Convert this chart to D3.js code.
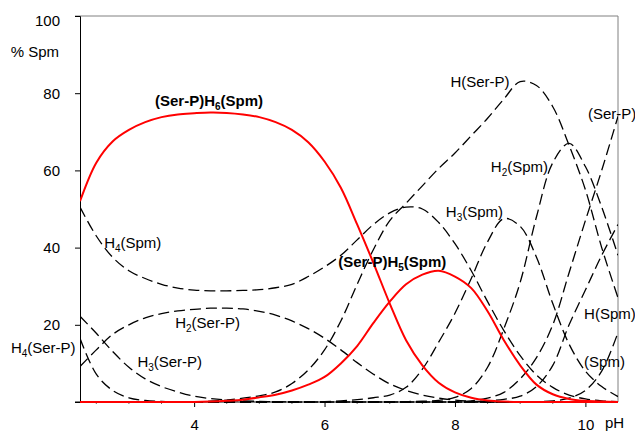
<!DOCTYPE html>
<html>
<head>
<meta charset="utf-8">
<script src="https://cdn.jsdelivr.net/npm/d3@7"></script>
<style>
  body { margin: 0; background: #fff; }
  svg { display: block; font-family: "Liberation Sans", Arial, sans-serif; }
</style>
</head>
<body>
<div id="chart"></div>
<script>
// pH grid shared by every species curve
const pH = [2.25, 2.5, 2.75, 3.0, 3.25, 3.5, 3.75, 4.0, 4.25, 4.5, 4.75, 5.0,
  5.25, 5.5, 5.75, 6.0, 6.25, 6.5, 6.75, 7.0, 7.25, 7.5, 7.75, 8.0, 8.25,
  8.5, 8.75, 9.0, 9.25, 9.5, 9.75, 10.0, 10.25, 10.5];

// complexes (red)
const serPH6Spm = [52, 62, 67.5, 70.5, 72.5, 73.8, 74.5, 74.8, 75, 74.9, 74.5, 73.8,
  72.5, 70.5, 67.3, 62.3, 55.5, 46, 36, 25.5, 16, 9.5, 5, 2.5, 1.1,
  0.4, 0.1, 0, 0, 0, 0, 0, 0, 0];
const serPH5Spm = [0, 0, 0, 0, 0, 0, 0, 0, 0.1, 0.3, 0.6, 1.2,
  1.9, 3.0, 4.5, 6.5, 10, 14.5, 20.5, 26, 30.5, 33, 34, 32.5, 29.5,
  23.5, 16, 9.5, 4.5, 2, 0.8, 0.3, 0.1, 0];

// spermine species (dashed)
const h4Spm = [50.5, 43, 37.5, 34, 32, 30.5, 29.5, 29, 28.8, 28.8, 28.9, 29.1,
  29.6, 30.5, 32.5, 35, 38, 42, 46, 49, 50.5, 50, 46.5, 41, 34,
  26, 18.5, 12, 7, 3.8, 1.8, 0.8, 0.3, 0.1];
const h3Spm = [0, 0, 0, 0, 0, 0, 0, 0, 0, 0, 0, 0,
  0, 0, 0, 0.1, 0.3, 0.6, 1.1, 1.8, 3.8, 8.5, 15.5, 23, 32,
  41.5, 47.5, 45.5, 37.5, 25.5, 15, 8, 4, 1.4];
const h2Spm = [0, 0, 0, 0, 0, 0, 0, 0, 0, 0, 0, 0,
  0, 0, 0, 0, 0, 0, 0, 0, 0.1, 0.2, 0.4, 1.2, 3.5,
  9, 19, 31, 48, 62, 67, 61, 50.5, 38];
const hSpm = [0, 0, 0, 0, 0, 0, 0, 0, 0, 0, 0, 0,
  0, 0, 0, 0, 0, 0, 0, 0, 0, 0, 0, 0, 0.1,
  0.3, 0.7, 1.5, 4, 9.5, 20, 29, 38, 46];
const spm = [0, 0, 0, 0, 0, 0, 0, 0, 0, 0, 0, 0,
  0, 0, 0, 0, 0, 0, 0, 0, 0, 0, 0, 0, 0,
  0, 0, 0, 0.1, 0.3, 1, 3, 8, 18];

// Ser-P species (dashed)
const h4SerP = [16.5, 7.2, 3, 1.1, 0.4, 0.15, 0.05, 0, 0, 0, 0, 0,
  0, 0, 0, 0, 0, 0, 0, 0, 0, 0, 0, 0, 0,
  0, 0, 0, 0, 0, 0, 0, 0, 0];
const h3SerP = [22.2, 17.8, 13.1, 9, 6, 4, 2.6, 1.5, 0.9, 0.5, 0.3, 0.15,
  0.1, 0, 0, 0, 0, 0, 0, 0, 0, 0, 0, 0, 0,
  0, 0, 0, 0, 0, 0, 0, 0, 0];
const h2SerP = [9.2, 13.5, 17.5, 20, 21.8, 22.9, 23.6, 24, 24.3, 24.3, 24.1, 23.5,
  22.5, 21, 19, 16.5, 13.5, 10.2, 7.2, 4.7, 3, 1.8, 1.0, 0.5, 0.2,
  0.1, 0, 0, 0, 0, 0, 0, 0, 0];
const hSerP = [0, 0, 0, 0, 0, 0, 0, 0, 0.2, 0.5, 1, 1.6,
  2.6, 4.8, 8.3, 13.5, 21, 30.5, 39.5, 47, 51.5, 56, 60.5, 64.5, 69,
  73.5, 78.5, 83, 82, 76.5, 66.5, 55, 40, 27];
const serP = [0, 0, 0, 0, 0, 0, 0, 0, 0, 0, 0, 0,
  0, 0, 0, 0, 0, 0, 0, 0, 0, 0, 0, 0, 0.3,
  1, 2.5, 6, 11.5, 20, 33.5, 47, 60, 74];

const xTicks = [4, 6, 8, 10];
const yTicks = [0, 20, 40, 60, 80, 100];

// curve labels: parts [text, isSubscript], anchored at (pH, %)
const curveLabels = [
  { parts: [['(Ser-P)H', 0], ['6', 1], ['(Spm)', 0]], at: [3.40, 76.6], bold: true },
  { parts: [['(Ser-P)H', 0], ['5', 1], ['(Spm)', 0]], at: [6.21, 35.0], bold: true },
  { parts: [['H', 0], ['4', 1], ['(Spm)', 0]], at: [2.62, 39.9] },
  { parts: [['H', 0], ['2', 1], ['(Ser-P)', 0]], at: [3.71, 19.2] },
  { parts: [['H', 0], ['3', 1], ['(Ser-P)', 0]], at: [3.13, 9.1] },
  { parts: [['H', 0], ['4', 1], ['(Ser-P)', 0]], at: [1.19, 12.6] },
  { parts: [['H', 0], ['3', 1], ['(Spm)', 0]], at: [7.86, 47.9] },
  { parts: [['H', 0], ['2', 1], ['(Spm)', 0]], at: [8.55, 59.6] },
  { parts: [['H(Ser-P)', 0]], at: [7.93, 81.5] },
  { parts: [['(Ser-P)', 0]], at: [10.04, 73.3] },
  { parts: [['H(Spm)', 0]], at: [9.98, 21.5] },
  { parts: [['(Spm)', 0]], at: [9.98, 9.1] }
];

const width = 635, height = 432;
const margin = { top: 16, right: 17, bottom: 30, left: 80 };

const svg = d3.select('#chart').append('svg')
  .attr('width', width)
  .attr('height', height);

const x = d3.scaleLinear().domain([2.25, 10.5]).range([margin.left, width - margin.right]);
const y = d3.scaleLinear().domain([0, 100]).range([height - margin.bottom, margin.top]);

svg.append('clipPath').attr('id', 'plot')
  .append('rect')
  .attr('x', x(2.25)).attr('y', y(100) - 2)
  .attr('width', x(10.5) - x(2.25)).attr('height', y(0) - y(100) + 3);

// frame: grey top and right, black left/bottom
svg.append('line')
  .attr('x1', x(2.25) - 5).attr('x2', x(10.5))
  .attr('y1', y(100)).attr('y2', y(100))
  .attr('stroke', '#808080');
svg.append('line')
  .attr('x1', x(10.5)).attr('x2', x(10.5))
  .attr('y1', y(100)).attr('y2', y(0))
  .attr('stroke', '#808080');

// y axis
const yAxis = svg.append('g')
  .attr('transform', `translate(${x(2.25)},0)`)
  .call(d3.axisLeft(y).tickValues(yTicks).tickSize(5).tickPadding(15)
    .tickFormat(d => d === 0 ? '' : d));
yAxis.select('.domain').attr('stroke', '#000');
yAxis.selectAll('.tick line').attr('stroke', '#000');
yAxis.selectAll('text')
  .attr('font-size', 15)
  .attr('font-family', '"Liberation Sans", Arial, sans-serif')
  .attr('fill', '#000');
yAxis.selectAll('.tick').filter(d => d === 100).select('text').attr('dy', '0.62em');

svg.append('text')
  .attr('x', 59).attr('y', 57)
  .attr('text-anchor', 'end')
  .attr('font-size', 15)
  .text('% Spm');

// x axis
const xAxis = svg.append('g')
  .attr('transform', `translate(0,${y(0)})`)
  .call(d3.axisBottom(x).tickValues(xTicks).tickSize(5).tickPadding(12));
xAxis.select('.domain').attr('stroke', '#000').attr('d', `M${x(2.25) - 5},0H${x(10.5)}`);
xAxis.selectAll('.tick line').attr('stroke', '#000');
xAxis.selectAll('text')
  .attr('font-size', 15)
  .attr('font-family', '"Liberation Sans", Arial, sans-serif')
  .attr('fill', '#000');

// minor ticks
const minor = d3.range(2.5, 10.5, 0.5).filter(v => !xTicks.includes(v));
svg.append('g').selectAll('line')
  .data(minor)
  .join('line')
  .attr('x1', d => x(d)).attr('x2', d => x(d))
  .attr('y1', y(0)).attr('y2', y(0) + 2)
  .attr('stroke', '#666');

svg.append('text')
  .attr('x', 605).attr('y', 428)
  .attr('font-size', 15)
  .text('pH');

// species curves
const series = [
  { values: h4Spm, red: false },
  { values: h3Spm, red: false },
  { values: h2Spm, red: false },
  { values: hSpm, red: false },
  { values: spm, red: false },
  { values: h4SerP, red: false },
  { values: h3SerP, red: false },
  { values: h2SerP, red: false },
  { values: hSerP, red: false },
  { values: serP, red: false },
  { values: serPH6Spm, red: true },
  { values: serPH5Spm, red: true }
];

const line = d3.line()
  .x((d, i) => x(pH[i]))
  .y(d => y(d))
  .curve(d3.curveCatmullRom.alpha(0.5));

svg.append('g')
  .attr('clip-path', 'url(#plot)')
  .selectAll('path')
  .data(series)
  .join('path')
  .attr('d', d => line(d.values))
  .attr('fill', 'none')
  .attr('stroke', d => d.red ? '#ff0000' : '#000')
  .attr('stroke-width', d => d.red ? 2 : 1.3)
  .attr('stroke-dasharray', d => d.red ? null : '11,5');

// labels
const lab = svg.append('g').selectAll('text')
  .data(curveLabels)
  .join('text')
  .attr('x', d => x(d.at[0]))
  .attr('y', d => y(d.at[1]))
  .attr('font-size', 15)
  .attr('font-weight', d => d.bold ? 'bold' : null)
  .attr('fill', '#000');

lab.each(function(d) {
  const t = d3.select(this);
  let shifted = false;
  d.parts.forEach(([txt, sub]) => {
    const span = t.append('tspan').text(txt);
    if (sub) {
      span.attr('font-size', 10).attr('dy', 4);
      shifted = true;
    } else if (shifted) {
      span.attr('dy', -4);
      shifted = false;
    }
  });
});
</script>
</body>
</html>
